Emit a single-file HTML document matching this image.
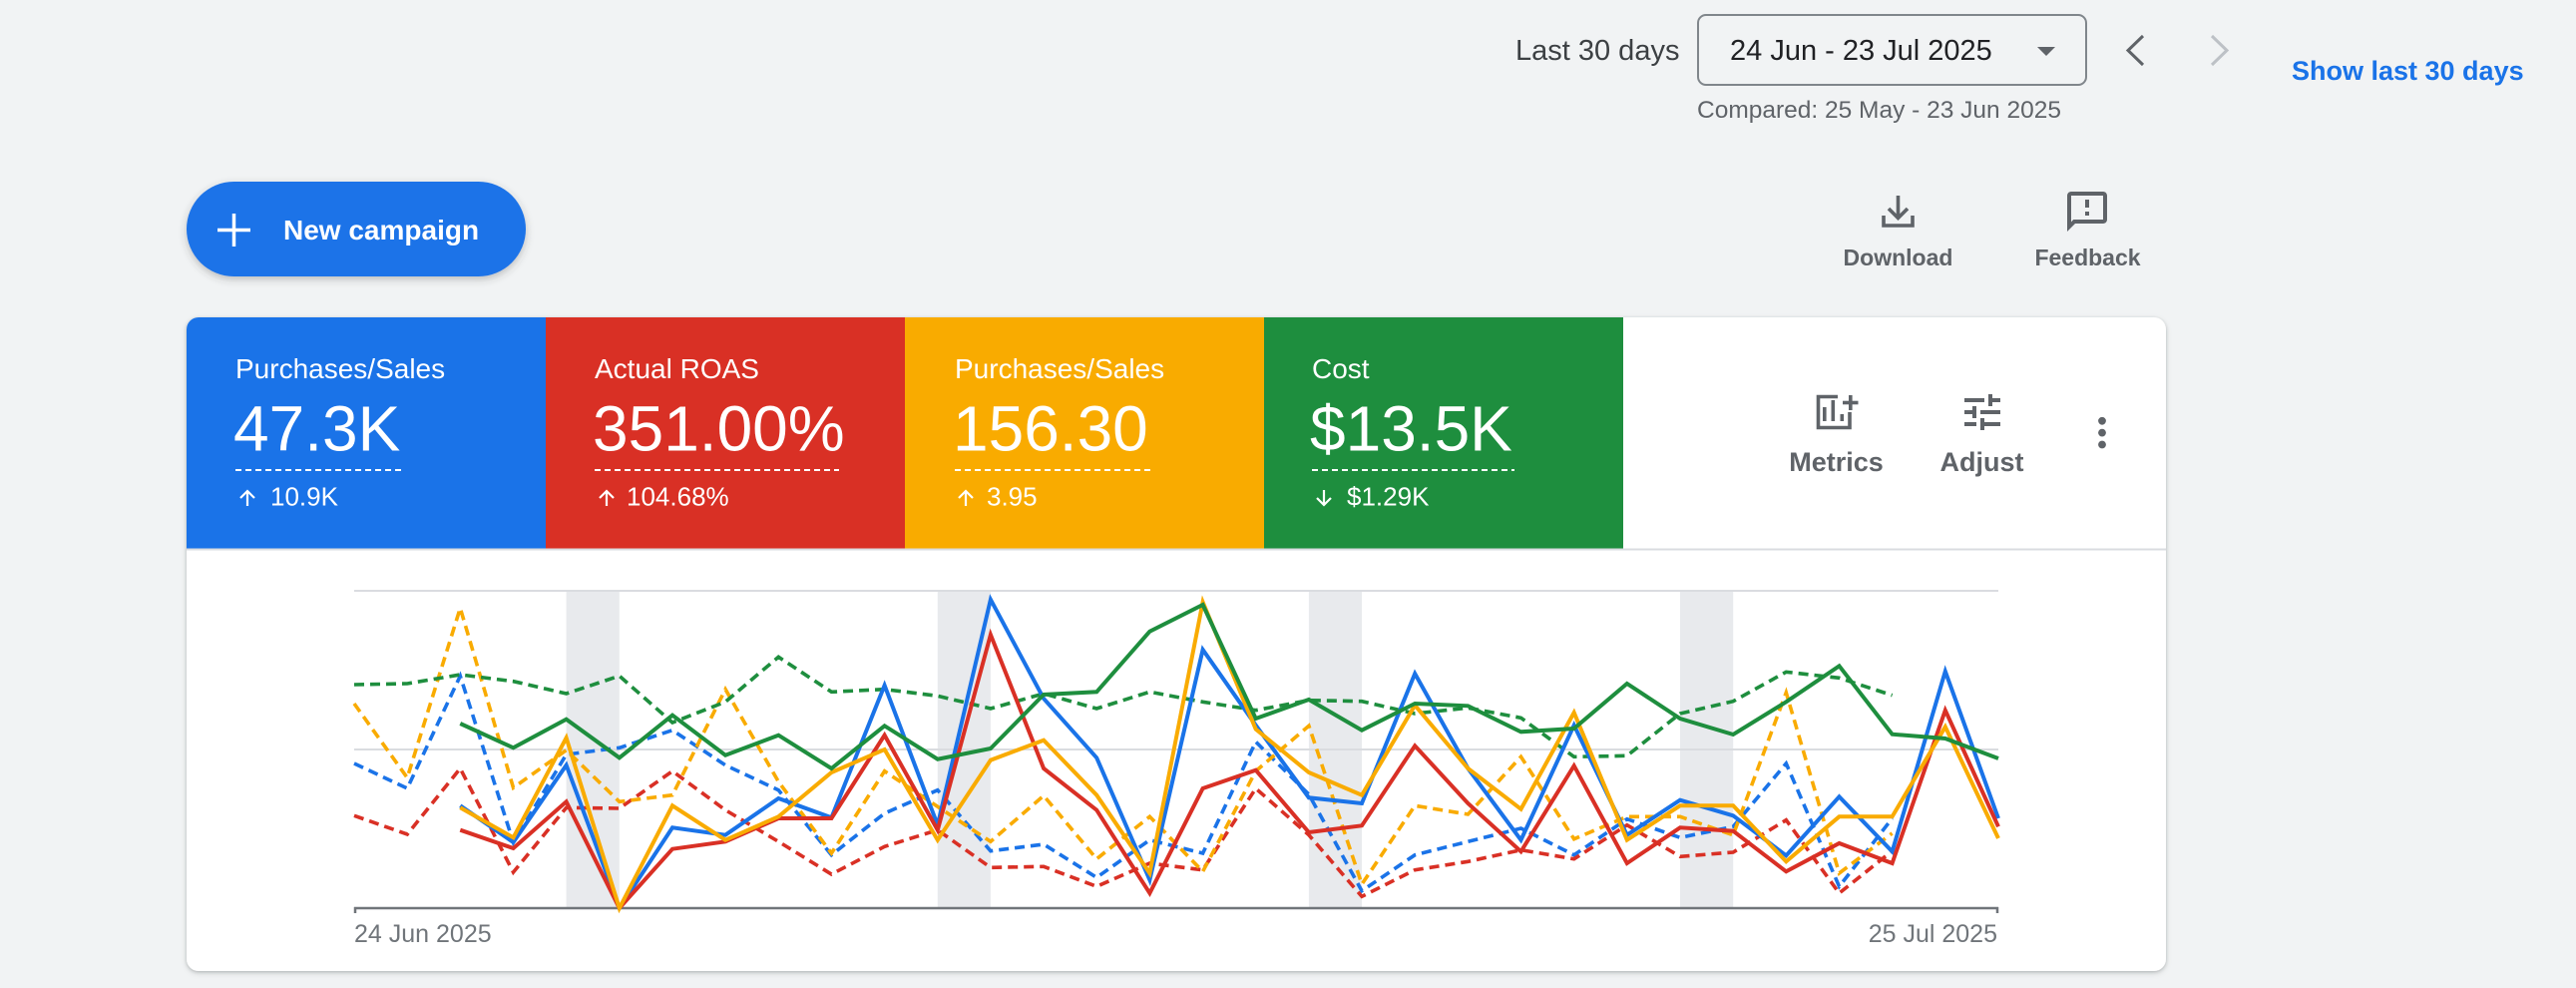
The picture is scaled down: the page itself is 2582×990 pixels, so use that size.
<!DOCTYPE html>
<html>
<head>
<meta charset="utf-8">
<style>
  html,body{margin:0;padding:0;background:#f1f3f4;}
  body{width:2582px;height:990px;overflow:hidden;}
  svg{display:block;font-family:"Liberation Sans",Arial,sans-serif;}
</style>
</head>
<body>
<svg width="2582" height="990" viewBox="0 0 2582 990" xmlns="http://www.w3.org/2000/svg">
  <defs>
    <filter id="cardsh" x="-3%" y="-5%" width="106%" height="112%">
      <feDropShadow dx="0" dy="1" stdDeviation="1.5" flood-color="#3c4043" flood-opacity="0.28"/>
      <feDropShadow dx="0" dy="2" stdDeviation="3" flood-color="#3c4043" flood-opacity="0.12"/>
    </filter>
    <filter id="btnsh" x="-20%" y="-30%" width="140%" height="170%">
      <feDropShadow dx="0" dy="3" stdDeviation="4" flood-color="#3c4043" flood-opacity="0.3"/>
    </filter>
    <clipPath id="cardclip"><rect x="187" y="318" width="1984" height="655" rx="12" ry="12"/></clipPath>
  </defs>

  <rect x="0" y="0" width="2582" height="990" fill="#f1f3f4"/>

  <!-- Header -->
  <text x="1519" y="60" font-size="29" fill="#3c4043">Last 30 days</text>
  <rect x="1702" y="15" width="389" height="70" rx="8" ry="8" fill="none" stroke="#80868b" stroke-width="2"/>
  <text x="1734" y="60" font-size="29" fill="#202124">24 Jun - 23 Jul 2025</text>
  <polygon points="2042,47 2060,47 2051,56" fill="#5f6368"/>
  <polyline points="2148,36 2133,50.5 2148,65" fill="none" stroke="#5f6368" stroke-width="3"/>
  <polyline points="2217,36 2232,50.5 2217,65" fill="none" stroke="#bdc1c6" stroke-width="3"/>
  <text x="2297" y="80" font-size="27" font-weight="bold" fill="#1a73e8">Show last 30 days</text>
  <text x="1701" y="118" font-size="24.5" fill="#5f6368">Compared: 25 May - 23 Jun 2025</text>

  <!-- New campaign button -->
  <rect x="187" y="182" width="340" height="95" rx="47.5" ry="47.5" fill="#1a73e8" filter="url(#btnsh)"/>
  <line x1="218" y1="230.5" x2="251" y2="230.5" stroke="#fff" stroke-width="3.5"/>
  <line x1="234.5" y1="214" x2="234.5" y2="247" stroke="#fff" stroke-width="3.5"/>
  <text x="284" y="240" font-size="28" font-weight="bold" fill="#fff">New campaign</text>

  <!-- Download -->
  <g stroke="#5f6368" stroke-width="3.6" fill="none">
    <line x1="1902.5" y1="196" x2="1902.5" y2="218"/>
    <polyline points="1893,209 1902.5,218.5 1912,209"/>
    <polyline points="1888,216 1888,226 1917,226 1917,216"/>
  </g>
  <text x="1902.5" y="266" font-size="23" font-weight="bold" fill="#5f6368" text-anchor="middle">Download</text>
  <!-- Feedback -->
  <g transform="translate(2068,188) scale(2)">
    <path fill="#5f6368" d="M20 2H4c-1.1 0-1.99.9-1.99 2L2 22l4-4h14c1.1 0 2-.9 2-2V4c0-1.1-.9-2-2-2zm0 14H5.17l-.59.59-.58.58V4h16v12zM11 12h2v2h-2zm0-6h2v4h-2z"/>
  </g>
  <text x="2092.5" y="266" font-size="23" font-weight="bold" fill="#5f6368" text-anchor="middle">Feedback</text>

  <!-- Card -->
  <rect x="187" y="318" width="1984" height="655" rx="12" ry="12" fill="#fff" filter="url(#cardsh)"/>
  <g clip-path="url(#cardclip)">
    <rect x="187" y="318" width="360" height="232" fill="#1a73e8"/>
    <rect x="547" y="318" width="360" height="232" fill="#d93025"/>
    <rect x="907" y="318" width="360" height="232" fill="#f9ab00"/>
    <rect x="1267" y="318" width="360" height="232" fill="#1e8e3e"/>
  </g>
  <line x1="187" y1="550.5" x2="2171" y2="550.5" stroke="#dadce0" stroke-width="2"/>

  <!-- Tile texts -->
  <g fill="#fff">
    <text x="236" y="379" font-size="28">Purchases/Sales</text>
    <text x="234" y="451.5" font-size="64">47.3K</text>
    <text x="271" y="506.5" font-size="26">10.9K</text>

    <text x="596" y="379" font-size="28">Actual ROAS</text>
    <text x="594" y="451.5" font-size="64">351.00%</text>
    <text x="628" y="506.5" font-size="26">104.68%</text>

    <text x="957" y="379" font-size="28">Purchases/Sales</text>
    <text x="955" y="451.5" font-size="64">156.30</text>
    <text x="989" y="506.5" font-size="26">3.95</text>

    <text x="1315" y="379" font-size="28">Cost</text>
    <text x="1313" y="451.5" font-size="64">$13.5K</text>
    <text x="1350" y="506.5" font-size="26">$1.29K</text>
  </g>
  <g stroke="#fff" stroke-width="2" stroke-dasharray="6 4">
    <line x1="236" y1="471" x2="402" y2="471"/>
    <line x1="596" y1="471" x2="841" y2="471"/>
    <line x1="957" y1="471" x2="1154" y2="471"/>
    <line x1="1315" y1="471" x2="1518" y2="471"/>
  </g>
  <g stroke="#fff" stroke-width="2.2" fill="none">
    <line x1="248" y1="492" x2="248" y2="507"/><polyline points="241,499 248,492 255,499"/>
    <line x1="608" y1="492" x2="608" y2="507"/><polyline points="601,499 608,492 615,499"/>
    <line x1="968" y1="492" x2="968" y2="507"/><polyline points="961,499 968,492 975,499"/>
    <line x1="1327" y1="491" x2="1327" y2="506"/><polyline points="1320,499 1327,506 1334,499"/>
  </g>

  <!-- Metrics icon -->
  <g fill="none" stroke="#5f6368" stroke-width="3.6">
    <path d="M1842,397.5 H1822.5 V428.5 H1854 V413"/>
    <line x1="1847" y1="403.5" x2="1862.5" y2="403.5"/>
    <line x1="1854.8" y1="396" x2="1854.8" y2="411"/>
  </g>
  <g fill="#5f6368">
    <rect x="1827" y="408" width="3.6" height="14"/>
    <rect x="1835.5" y="401" width="3.6" height="21"/>
    <rect x="1844.5" y="415" width="3.6" height="7"/>
  </g>
  <text x="1840.5" y="472" font-size="27" font-weight="bold" fill="#5f6368" text-anchor="middle">Metrics</text>
  <!-- Adjust icon -->
  <g transform="translate(1963,389) scale(2)">
    <path fill="#5f6368" d="M3 17v2h6v-2H3zM3 5v2h10V5H3zm10 16v-2h8v-2h-8v-2h-2v6h2zM7 9v2H3v2h4v2h2V9H7zm14 4v-2H11v2h10zm-6-4h2V7h4V5h-4V3h-2v6z"/>
  </g>
  <text x="1986.5" y="472" font-size="27" font-weight="bold" fill="#5f6368" text-anchor="middle">Adjust</text>
  <!-- Kebab -->
  <g fill="#5f6368">
    <circle cx="2107" cy="421.8" r="3.9"/>
    <circle cx="2107" cy="433.6" r="3.9"/>
    <circle cx="2107" cy="445.5" r="3.9"/>
  </g>

  <!-- Chart -->
  <g fill="#e8eaed">
    <rect x="567.6" y="592" width="53.2" height="318"/>
    <rect x="939.8" y="592" width="53.1" height="318"/>
    <rect x="1311.9" y="592" width="53.1" height="318"/>
    <rect x="1684.0" y="592" width="53.2" height="318"/>
  </g>
  <g stroke="#dadce0" stroke-width="2">
    <line x1="355" y1="592" x2="2003" y2="592"/>
    <line x1="355" y1="751" x2="2003" y2="751"/>
  </g>
  <g stroke="#70757a" stroke-width="2.5" fill="none">
    <line x1="355" y1="910" x2="2003" y2="910"/>
    <line x1="356" y1="909" x2="356" y2="915"/>
    <line x1="2002" y1="909" x2="2002" y2="915"/>
  </g>
  <text x="355" y="944" font-size="25" fill="#70757a">24 Jun 2025</text>
  <text x="2002" y="944" font-size="25" fill="#70757a" text-anchor="end">25 Jul 2025</text>

  <g fill="none" stroke-width="3.6" stroke-dasharray="10 6" stroke-linejoin="miter">
    <polyline stroke="#1a73e8" points="355,765 408.2,790 461.3,677.3 514.5,844 567.6,756 620.8,749.3 674,731.7 727.1,766.7 780.3,791.7 833.4,856.7 886.6,815 939.8,791.7 992.9,852.7 1046.1,846 1099.2,879.3 1152.4,841.7 1205.6,855 1258.7,743.3 1311.9,796 1365,892.7 1418.2,856.7 1471.4,843.3 1524.5,830 1577.7,856.7 1630.8,820.7 1684,839.3 1737.2,828.3 1790.3,765 1843.5,888.3 1896.6,820"/>
    <polyline stroke="#d93025" points="355,817.3 408.2,836 461.3,770 514.5,874 567.6,809.3 620.8,810 674,772.7 727.1,811.7 780.3,843.3 833.4,876 886.6,848.3 939.8,831.7 992.9,869.3 1046.1,868.3 1099.2,888.3 1152.4,865 1205.6,871.7 1258.7,790 1311.9,836.7 1365,898.3 1418.2,871.7 1471.4,863.3 1524.5,851.7 1577.7,860.7 1630.8,826.7 1684,858.3 1737.2,854 1790.3,821.7 1843.5,895 1896.6,852.7"/>
    <polyline stroke="#f9ab00" points="355,705 408.2,779.3 461.3,609.3 514.5,789.3 567.6,751.7 620.8,803.3 674,796.7 727.1,690.7 780.3,783.3 833.4,855 886.6,772.7 939.8,808.3 992.9,843.3 1046.1,797.3 1099.2,860.7 1152.4,818.3 1205.6,873.3 1258.7,772.7 1311.9,727.3 1365,886 1418.2,807.3 1471.4,816 1524.5,758.3 1577.7,840.7 1630.8,818.3 1684,818.3 1737.2,836.7 1790.3,694 1843.5,875 1896.6,835"/>
    <polyline stroke="#1e8e3e" points="355,686 408.2,685 461.3,676 514.5,682.7 567.6,695 620.8,677.3 674,724 727.1,703.3 780.3,658.3 833.4,693.3 886.6,690.7 939.8,697.3 992.9,710 1046.1,695 1099.2,710 1152.4,693.3 1205.6,703.3 1258.7,711.7 1311.9,701.7 1365,702.7 1418.2,715 1471.4,709.3 1524.5,719.3 1577.7,758.3 1630.8,757.3 1684,715 1737.2,702.7 1790.3,673.3 1843.5,679.3 1896.6,696.7"/>
  </g>
  <g fill="none" stroke-width="4" stroke-linejoin="miter" stroke-miterlimit="6">
    <polyline stroke="#1a73e8" points="461.3,807.3 514.5,844 567.6,766.7 620.8,910 674,829.3 727.1,836.7 780.3,800 833.4,819.3 886.6,686.7 939.8,826.7 992.9,600.7 1046.1,700 1099.2,759.3 1152.4,881.7 1205.6,651 1258.7,726.7 1311.9,799.3 1365,805 1418.2,675 1471.4,770 1524.5,841.7 1577.7,726.7 1630.8,836.7 1684,801.7 1737.2,817.3 1790.3,857.3 1843.5,798.3 1896.6,853.3 1949.8,672.7 2003,820"/>
    <polyline stroke="#d93025" points="461.3,831.7 514.5,850 567.6,803.3 620.8,910 674,850.7 727.1,843.3 780.3,820 833.4,820 886.6,736.7 939.8,831.7 992.9,636 1046.1,770 1099.2,811.7 1152.4,895 1205.6,790 1258.7,771.7 1311.9,834 1365,827.3 1418.2,747.3 1471.4,805 1524.5,853.3 1577.7,767.3 1630.8,865 1684,829.3 1737.2,832.7 1790.3,873.3 1843.5,845 1896.6,865 1949.8,711.7 2003,828.3"/>
    <polyline stroke="#f9ab00" points="461.3,809.3 514.5,839.3 567.6,739.3 620.8,910 674,807.3 727.1,841.7 780.3,818.3 833.4,774 886.6,751 939.8,841.7 992.9,761.7 1046.1,741.7 1099.2,796.7 1152.4,875 1205.6,603.3 1258.7,730.7 1311.9,774 1365,796.7 1418.2,706.7 1471.4,770 1524.5,810.7 1577.7,714 1630.8,841.7 1684,807.3 1737.2,807.3 1790.3,863.3 1843.5,818.3 1896.6,818.3 1949.8,728.3 2003,840"/>
    <polyline stroke="#1e8e3e" points="461.3,725 514.5,749.3 567.6,720.7 620.8,759.3 674,716.7 727.1,756.7 780.3,736.7 833.4,770 886.6,727.3 939.8,760.7 992.9,750 1046.1,696 1099.2,693.3 1152.4,632.7 1205.6,606 1258.7,720 1311.9,701 1365,731.7 1418.2,705 1471.4,707.3 1524.5,733.3 1577.7,730 1630.8,685 1684,720 1737.2,736 1790.3,703.3 1843.5,667.3 1896.6,735.7 1949.8,740 2003,760"/>
  </g>
</svg>
</body>
</html>
